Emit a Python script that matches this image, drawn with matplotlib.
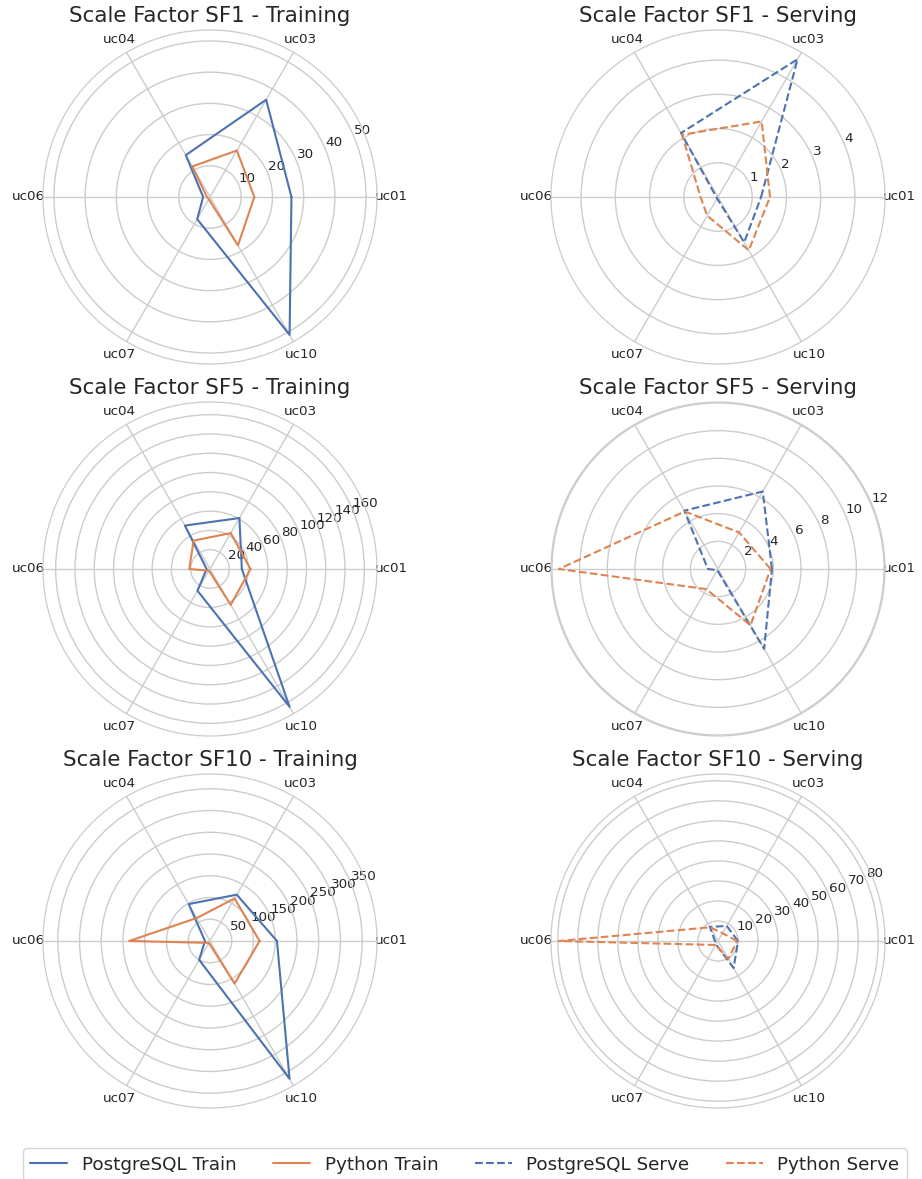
import numpy as np
import matplotlib
matplotlib.use("Agg")
import matplotlib.pyplot as plt
import seaborn as sns
from matplotlib.lines import Line2D

sns.set_theme(style="whitegrid")
plt.rcParams['font.family'] = ['DejaVu Sans']

use_cases = ["uc01", "uc03", "uc04", "uc06", "uc07", "uc10"]
scale_factors = ["SF1", "SF5", "SF10"]

# training times per scale factor (uc01, uc03, uc04, uc06, uc07, uc10)
pg_train = {
    "SF1": [26.1, 36.0, 15.5, 2.2, 8.2, 51.0],
    "SF5": [33, 61, 52, 3.5, 26, 165],
    "SF10": [154, 123, 98, 11.5, 50, 366],
}
py_train = {
    "SF1": [14.2, 17.2, 11.3, 1.0, 0.8, 17.9],
    "SF5": [42, 43, 34, 21.5, 2, 43],
    "SF10": [114, 113, 61, 186, 5, 113],
}
# serving times
pg_serve = {
    "SF1": [1.26, 4.65, 2.16, 0.05, 0.05, 1.53],
    "SF5": [3.9, 6.47, 4.87, 0.73, 0.1, 6.67],
    "SF10": [10.0, 8.7, 8.1, 1.5, 2.0, 15.6],
}
py_serve = {
    "SF1": [1.52, 2.55, 2.10, 0.51, 0.63, 1.80],
    "SF5": [3.8, 3.05, 4.8, 11.5, 1.68, 4.7],
    "SF10": [9.6, 4.5, 7.9, 79.5, 2.3, 10.3],
}

blue = "#4C72B0"
orange = "#DD8452"

W, H = 922, 1179
fig = plt.figure(figsize=(W / 100, H / 100), dpi=100)

angles = np.linspace(0, 2 * np.pi, len(use_cases), endpoint=False)
closed = np.concatenate([angles, angles[:1]])

centers_x = [210, 718]
centers_y = [197, 569, 941]
R = 167


def radar(ax, series, title):
    for vals, color, ls in series:
        v = np.concatenate([vals, vals[:1]])
        ax.plot(closed, v, color=color, linestyle=ls, linewidth=1.5)
    ax.set_xticks(angles)
    ax.set_xticklabels(use_cases, fontsize=9.7)
    ax.tick_params(axis='x', pad=-2.3)
    ax.tick_params(axis='y', labelsize=9.7)
    ax.spines['polar'].set_linewidth(0.9)
    ax.set_title(title, fontsize=15.4)


for i, sf in enumerate(scale_factors):
    for j in range(2):
        cx, cy = centers_x[j], centers_y[i]
        rect = [(cx - R) / W, (H - cy - R) / H, 2 * R / W, 2 * R / H]
        ax = fig.add_axes(rect, projection='polar')
        if j == 0:
            radar(ax, [(np.array(pg_train[sf]), blue, '-'),
                       (np.array(py_train[sf]), orange, '-')],
                  f"Scale Factor {sf} - Training")
        else:
            radar(ax, [(np.array(pg_serve[sf]), blue, '--'),
                       (np.array(py_serve[sf]), orange, '--')],
                  f"Scale Factor {sf} - Serving")

handles = [
    Line2D([0], [0], color=blue, lw=1.5, ls='-'),
    Line2D([0], [0], color=orange, lw=1.5, ls='-'),
    Line2D([0], [0], color=blue, lw=1.5, ls='--'),
    Line2D([0], [0], color=orange, lw=1.5, ls='--'),
]
labels = ["PostgreSQL Train", "Python Train", "PostgreSQL Serve", "Python Serve"]
fig.legend(handles, labels, loc='upper center', ncol=4, fontsize=13.2,
           bbox_to_anchor=(465 / W, (H - 1139) / H), frameon=True)

fig.savefig("out.png", dpi=100)
